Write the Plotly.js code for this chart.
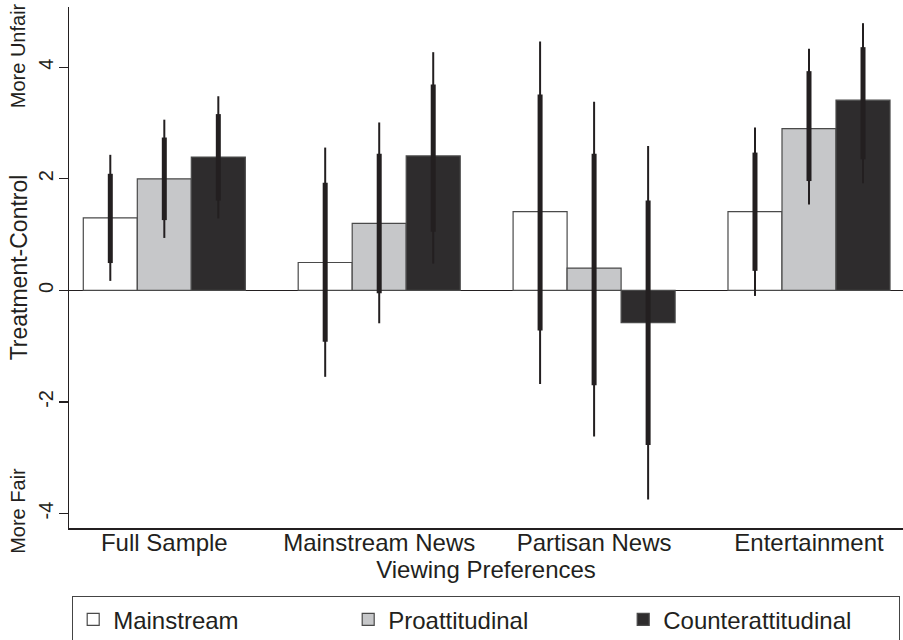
<!DOCTYPE html>
<html>
<head>
<meta charset="utf-8">
<script src="https://cdn.plot.ly/plotly-3.0.1.min.js"></script>
<style>
  html, body { margin: 0; padding: 0; background: #ffffff; }
  #chart { width: 903px; height: 640px; }
</style>
</head>
<body>
<div id="chart"></div>
<script>
// ---- Data ----
const categories = ['Full Sample', 'Mainstream News', 'Partisan News', 'Entertainment'];
const seriesNames = ['Mainstream', 'Proattitudinal', 'Counterattitudinal'];

const mainstreamVals    = [1.30, 0.50, 1.41, 1.41];
const mainstreamInnerLo = [0.49, -0.92, -0.72, 0.35];
const mainstreamInnerHi = [2.09, 1.93, 3.51, 2.47];
const mainstreamOuterLo = [0.17, -1.55, -1.68, -0.10];
const mainstreamOuterHi = [2.43, 2.56, 4.46, 2.92];

const proVals    = [2.00, 1.20, 0.40, 2.90];
const proInnerLo = [1.26, -0.05, -1.70, 1.96];
const proInnerHi = [2.74, 2.45, 2.45, 3.93];
const proOuterLo = [0.94, -0.59, -2.62, 1.54];
const proOuterHi = [3.06, 3.01, 3.38, 4.33];

const counterVals    = [2.39, 2.41, -0.58, 3.41];
const counterInnerLo = [1.61, 1.05, -2.77, 2.35];
const counterInnerHi = [3.16, 3.69, 1.61, 4.36];
const counterOuterLo = [1.29, 0.48, -3.75, 1.92];
const counterOuterHi = [3.48, 4.27, 2.59, 4.79];

const yTickVals = [-4, -2, 0, 2, 4];
const yTickText = ['-4', '-2', '0', '2', '4'];

// ---- Styling ----
const FONT = '"Liberation Sans", Arial, Helvetica, sans-serif';
const INK = '#231f20';
const fills = ['#ffffff', '#c6c7c9', '#2e2c2d'];
const outline = '#4a4a4a';

const series = [
  {vals: mainstreamVals, ilo: mainstreamInnerLo, ihi: mainstreamInnerHi, olo: mainstreamOuterLo, ohi: mainstreamOuterHi},
  {vals: proVals, ilo: proInnerLo, ihi: proInnerHi, olo: proOuterLo, ohi: proOuterHi},
  {vals: counterVals, ilo: counterInnerLo, ihi: counterInnerHi, olo: counterOuterLo, ohi: counterOuterHi}
];

const xIdx = categories.map((c, i) => i);
const traces = [];
series.forEach((s, k) => {
  const plus = (hi) => hi.map((h, i) => h - s.vals[i]);
  const minus = (lo) => lo.map((l, i) => s.vals[i] - l);
  // visible bar with outer (thin) interval
  traces.push({
    type: 'bar', x: xIdx, y: s.vals, name: seriesNames[k],
    offsetgroup: 'g' + k,
    marker: {color: fills[k], line: {color: outline, width: 1.2}},
    error_y: {type: 'data', symmetric: false, array: plus(s.ohi), arrayminus: minus(s.olo),
              color: INK, thickness: 2, width: 0},
    hoverinfo: 'skip'
  });
  // transparent twin carrying inner (thick) interval
  traces.push({
    type: 'bar', x: xIdx, y: s.vals, name: seriesNames[k] + ' inner',
    offsetgroup: 'g' + k, showlegend: false,
    marker: {color: 'rgba(0,0,0,0)', line: {width: 0}},
    error_y: {type: 'data', symmetric: false, array: plus(s.ihi), arrayminus: minus(s.ilo),
              color: INK, thickness: 5, width: 0},
    hoverinfo: 'skip'
  });
});

const layout = {
  width: 903, height: 640,
  margin: {l: 69, r: 0, t: 7, b: 112, autoexpand: false},
  paper_bgcolor: '#ffffff', plot_bgcolor: '#ffffff',
  font: {family: FONT, color: INK, size: 20},
  barmode: 'group', bargap: 0.246, bargroupgap: 0,
  showlegend: true,
  xaxis: {
    range: [-0.4435, 3.4374],
    tickmode: 'array', tickvals: xIdx, ticktext: categories,
    ticks: '', showgrid: false, zeroline: false,
    showline: true, linecolor: INK, linewidth: 1.5,
    ticklabelstandoff: -7,
    tickfont: {size: 24, family: FONT, color: INK},
    automargin: true,
    title: {text: 'Viewing Preferences', font: {size: 24, family: FONT, color: INK}, standoff: 0},
    fixedrange: true
  },
  yaxis: {
    range: [-4.26, 5.08],
    tickmode: 'array', tickvals: yTickVals, ticktext: yTickText,
    tickangle: -90,
    ticks: 'outside', ticklen: 9, tickwidth: 1.2, tickcolor: INK,
    ticklabelstandoff: -2,
    showgrid: false,
    zeroline: true, zerolinecolor: INK, zerolinewidth: 1.5,
    showline: true, linecolor: INK, linewidth: 1.5,
    tickfont: {size: 20, family: FONT, color: INK},
    automargin: true,
    title: {text: 'Treatment-Control', font: {size: 23, family: FONT, color: INK}, standoff: 0},
    fixedrange: true
  },
  legend: {
    orientation: 'h', x: 0.5, xanchor: 'center', y: -0.1305, yanchor: 'top',
    bordercolor: '#444444', borderwidth: 1.2, bgcolor: '#ffffff',
    font: {size: 24, family: FONT, color: INK},
    entrywidth: 230, entrywidthmode: 'pixels', traceorder: 'normal'
  },
  annotations: [
    {text: 'More Unfair', xref: 'paper', yref: 'y', x: -0.061, y: 4.2,
     xanchor: 'center', yanchor: 'middle', textangle: -90, showarrow: false,
     font: {size: 20, family: FONT, color: INK}},
    {text: 'More Fair', xref: 'paper', yref: 'y', x: -0.061, y: -3.95,
     xanchor: 'center', yanchor: 'middle', textangle: -90, showarrow: false,
     font: {size: 20, family: FONT, color: INK}}
  ]
};

Plotly.newPlot('chart', traces, layout, {staticPlot: true, displayModeBar: false});
</script>
</body>
</html>
